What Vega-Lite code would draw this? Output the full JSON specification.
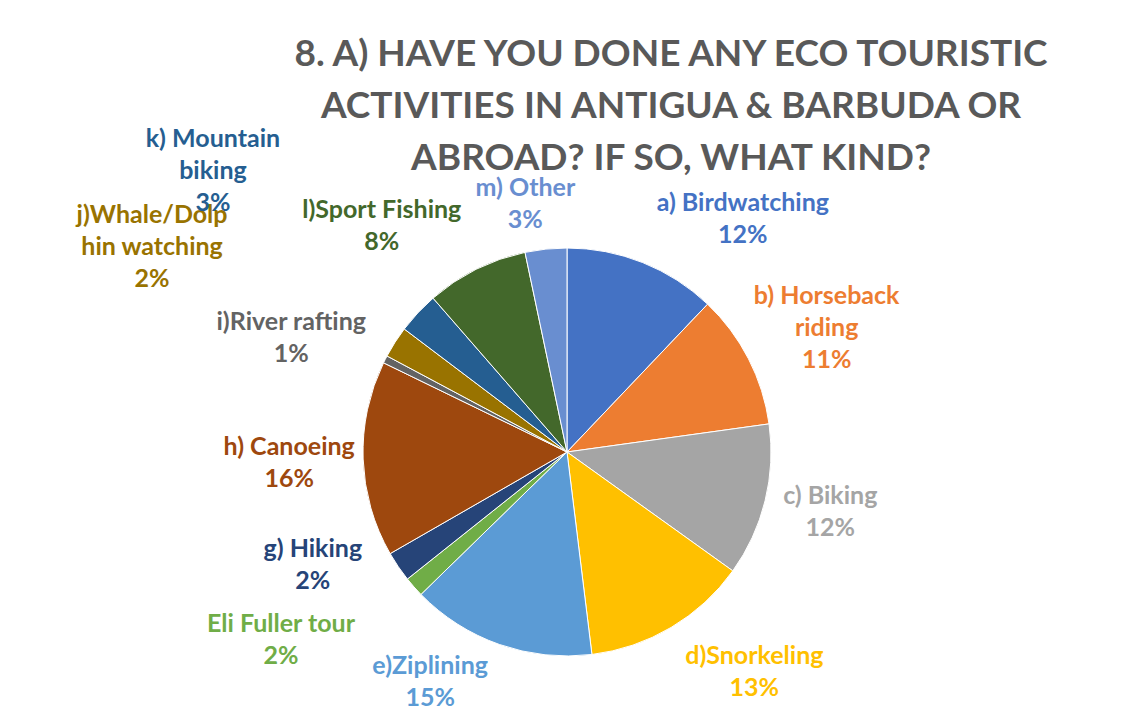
{
  "$schema": "https://vega.github.io/schema/vega-lite/v6.json",
  "width": 1120,
  "height": 532,
  "autosize": {"type": "none"},
  "padding": {"left": 7, "top": 186, "right": 0, "bottom": 0},
  "background": "white",
  "title": {
    "text": ["8. A) HAVE YOU DONE ANY ECO TOURISTIC", "ACTIVITIES IN ANTIGUA & BARBUDA OR", "ABROAD? IF SO, WHAT KIND?"],
    "font": "Lato",
    "fontSize": 37,
    "fontWeight": "bold",
    "color": "#595959",
    "lineHeight": 52,
    "anchor": "middle",
    "frame": "group",
    "dx": 104,
    "offset": -198
  },
  "data": {
    "values": [
      {"cat": "a) Birdwatching", "share": 0.121, "label": ["a) Birdwatching", "12%"]},
      {"cat": "b) Horseback riding", "share": 0.107, "label": ["b) Horseback", "riding", "11%"]},
      {"cat": "c) Biking", "share": 0.121, "label": ["c) Biking", "12%"]},
      {"cat": "d)Snorkeling", "share": 0.1315, "label": ["d)Snorkeling", "13%"]},
      {"cat": "e)Ziplining", "share": 0.1465, "label": ["e)Ziplining", "15%"]},
      {"cat": "f) Eli Fuller tour", "share": 0.016, "label": ["Eli Fuller tour", "2%"]},
      {"cat": "g) Hiking", "share": 0.024, "label": ["g) Hiking", "2%"]},
      {"cat": "h) Canoeing", "share": 0.155, "label": ["h) Canoeing", "16%"]},
      {"cat": "i)River rafting", "share": 0.006, "label": ["i)River rafting", "1%"]},
      {"cat": "j)Whale/Dolphin watching", "share": 0.025, "label": ["j)Whale/Dolp", "hin watching", "2%"]},
      {"cat": "k) Mountain biking", "share": 0.033, "label": ["k) Mountain", "biking", "3%"]},
      {"cat": "l)Sport Fishing", "share": 0.081, "label": ["l)Sport Fishing", "8%"]},
      {"cat": "m) Other", "share": 0.033, "label": ["m) Other", "3%"]}
    ]
  },
  "encoding": {
    "theta": {"field": "share", "type": "quantitative", "stack": true},
    "order": {"field": "cat", "type": "ordinal", "sort": "ascending"},
    "color": {
      "field": "cat",
      "type": "nominal",
      "legend": null,
      "scale": {
        "domain": ["a) Birdwatching", "b) Horseback riding", "c) Biking", "d)Snorkeling", "e)Ziplining", "f) Eli Fuller tour", "g) Hiking", "h) Canoeing", "i)River rafting", "j)Whale/Dolphin watching", "k) Mountain biking", "l)Sport Fishing", "m) Other"],
        "range": ["#4472C4", "#ED7D31", "#A5A5A5", "#FFC000", "#5B9BD5", "#70AD47", "#264478", "#9E480E", "#636363", "#997300", "#255E91", "#43682B", "#698ED0"]
      }
    }
  },
  "layer": [
    {"mark": {"type": "arc", "outerRadius": 204, "stroke": "white", "strokeWidth": 1}},
    {"mark": {"type": "text", "radius": 296, "dx": 66, "dy": 26}, "encoding": {"text": {"condition": {"test": "datum.cat === 'a) Birdwatching'", "field": "label"}, "value": ""}}},
    {"mark": {"type": "text", "radius": 302, "dx": -9, "dy": -18}, "encoding": {"text": {"condition": {"test": "datum.cat === 'b) Horseback riding'", "field": "label"}, "value": ""}}},
    {"mark": {"type": "text", "radius": 266, "dx": 5, "dy": -20}, "encoding": {"text": {"condition": {"test": "datum.cat === 'c) Biking'", "field": "label"}, "value": ""}}},
    {"mark": {"type": "text", "radius": 271, "dx": 49, "dy": -29}, "encoding": {"text": {"condition": {"test": "datum.cat === 'd)Snorkeling'", "field": "label"}, "value": ""}}},
    {"mark": {"type": "text", "radius": 247, "dx": -55, "dy": -19}, "encoding": {"text": {"condition": {"test": "datum.cat === 'e)Ziplining'", "field": "label"}, "value": ""}}},
    {"mark": {"type": "text", "radius": 328, "dx": -40, "dy": -45}, "encoding": {"text": {"condition": {"test": "datum.cat === 'f) Eli Fuller tour'", "field": "label"}, "value": ""}}},
    {"mark": {"type": "text", "radius": 265, "dx": -35, "dy": -52}, "encoding": {"text": {"condition": {"test": "datum.cat === 'g) Hiking'", "field": "label"}, "value": ""}}},
    {"mark": {"type": "text", "radius": 277, "dx": -1, "dy": -15}, "encoding": {"text": {"condition": {"test": "datum.cat === 'h) Canoeing'", "field": "label"}, "value": ""}}},
    {"mark": {"type": "text", "radius": 305, "dx": -4, "dy": 8}, "encoding": {"text": {"condition": {"test": "datum.cat === 'i)River rafting'", "field": "label"}, "value": ""}}},
    {"mark": {"type": "text", "radius": 477, "dx": -13, "dy": 20}, "encoding": {"text": {"condition": {"test": "datum.cat === 'j)Whale/Dolphin watching'", "field": "label"}, "value": ""}}},
    {"mark": {"type": "text", "radius": 472, "dx": -9, "dy": 9}, "encoding": {"text": {"condition": {"test": "datum.cat === 'k) Mountain biking'", "field": "label"}, "value": ""}}},
    {"mark": {"type": "text", "radius": 299, "dx": -52, "dy": 26}, "encoding": {"text": {"condition": {"test": "datum.cat === 'l)Sport Fishing'", "field": "label"}, "value": ""}}},
    {"mark": {"type": "text", "radius": 267, "dx": -14, "dy": 2}, "encoding": {"text": {"condition": {"test": "datum.cat === 'm) Other'", "field": "label"}, "value": ""}}}
  ],
  "config": {
    "view": {"stroke": null},
    "text": {"font": "Lato", "fontSize": 25, "fontWeight": "bold", "lineHeight": 32, "align": "center", "baseline": "middle"}
  }
}
